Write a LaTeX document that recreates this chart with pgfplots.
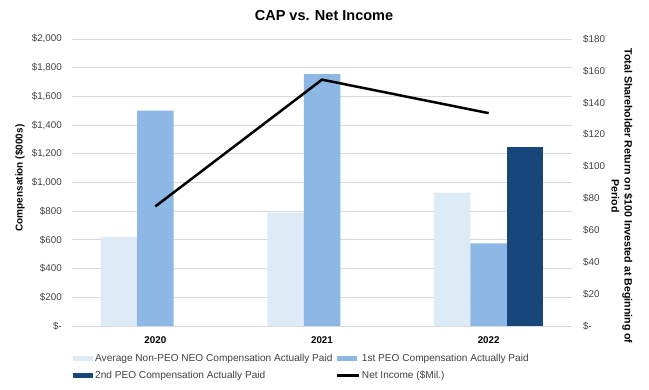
\documentclass[border=0pt]{standalone}
\usepackage{fontspec}
\setmainfont{Liberation Sans}
\usepackage{pgfplots}
\pgfplotsset{compat=1.18}
\definecolor{cLight}{RGB}{221,235,247}
\definecolor{cMed}{RGB}{141,183,228}
\definecolor{cDark}{RGB}{22,70,122}
\definecolor{cGrid}{RGB}{217,217,217}
\definecolor{cText}{RGB}{64,64,64}
\pgfplotsset{
  base/.style={
    at={(72bp,64bp)}, anchor=south west,
    scale only axis, width=500bp, height=287bp,
    xmin=-0.5, xmax=2.5,
    axis line style={draw=none},
    major tick length=0pt,
    tick label style={font=\fontsize{9.8bp}{12bp}\selectfont, text=cText},
  },
  legbar/.style={legend image code/.code={\path[##1] (0bp,-2.6bp) rectangle (20bp,2.6bp);}},
  legline/.style={legend image code/.code={\draw[##1] (0bp,0bp) -- (22bp,0bp);}},
}
\begin{document}
\begin{tikzpicture}
\useasboundingbox (0bp,0bp) rectangle (649bp,390bp);
\begin{axis}[base,
  ymin=0, ymax=2000,
  ytick={0,200,...,2000},
  yticklabels={\$-,\$200,\$400,\$600,\$800,{\$1,000},{\$1,200},{\$1,400},{\$1,600},{\$1,800},{\$2,000}},
  yticklabel style={inner sep=0pt, xshift=-10bp},
  ymajorgrids, grid style={cGrid, line width=0.8bp},
  xtick={0,1,2}, xticklabels={2020,2021,2022},
  xticklabel style={font=\bfseries\fontsize{9.8bp}{12bp}\selectfont, text=black, inner sep=0pt, yshift=-10bp},
]
\addplot[ybar, bar width=36.5bp, /pgf/bar shift=-36.5bp, fill=cLight, draw=none] coordinates {(0,620) (1,790) (2,930)};
\addplot[ybar, bar width=36.5bp, /pgf/bar shift=0bp, fill=cMed, draw=none] coordinates {(0,1500) (1,1755) (2,575)};
\addplot[ybar, bar width=36.5bp, /pgf/bar shift=36.5bp, fill=cDark, draw=none] coordinates {(2,1250)};
\end{axis}
\begin{axis}[base,
  ymin=0, ymax=180,
  axis y line*=right, axis x line=none,
  ytick={0,20,...,180},
  yticklabels={\$-,\$20,\$40,\$60,\$80,\$100,\$120,\$140,\$160,\$180},
  yticklabel style={inner sep=0pt, xshift=11bp, anchor=west},
  legend columns=2,
  legend cell align=left,
  legend style={at={(0,0)}, anchor=north west, xshift=1bp, yshift=-26bp,
    draw=none, fill=none, inner sep=0pt,
    font=\fontsize{10.1bp}{12bp}\selectfont, text=cText,
    /tikz/every even column/.append style={column sep=1bp},
    row sep=4bp},
]
\addlegendimage{legbar, fill=cLight, draw=none}
\addlegendentry{Average Non-PEO NEO Compensation Actually Paid}
\addlegendimage{legbar, fill=cMed, draw=none}
\addlegendentry{1st PEO Compensation Actually Paid}
\addlegendimage{legbar, fill=cDark, draw=none}
\addlegendentry{2nd PEO Compensation Actually Paid}
\addplot[black, line width=2.5bp, legline] coordinates {(0,75) (1,154.5) (2,133.5)};
\addlegendentry{Net Income (\$Mil.)}
\end{axis}
\node[font=\bfseries\fontsize{14.5bp}{17bp}\selectfont] at (324bp,374bp) {CAP vs. Net Income};
\node[rotate=90, font=\bfseries\fontsize{10bp}{12bp}\selectfont] at (20bp,212bp) {Compensation (\$000s)};
\node[rotate=-90, align=center, font=\bfseries\fontsize{10.6bp}{13bp}\selectfont] at (622bp,194bp) {Total Shareholder Return on \$100 Invested at Beginning of\\Period};
\end{tikzpicture}
\end{document}
